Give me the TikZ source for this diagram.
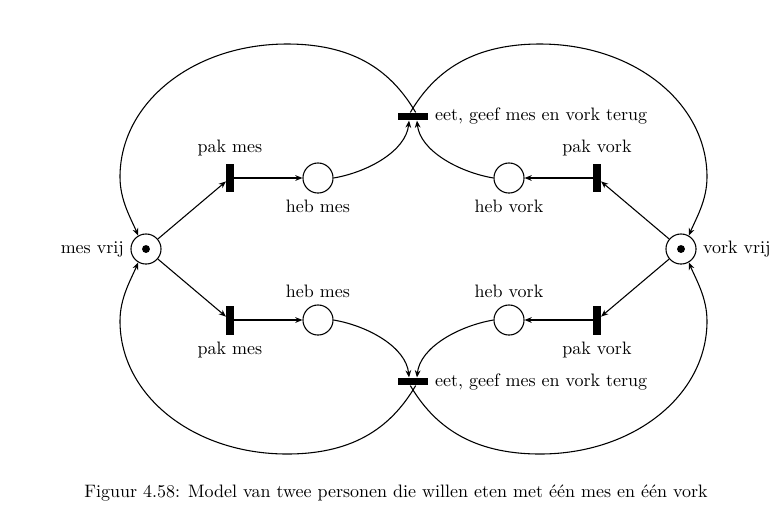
\documentclass[tikz,border=0pt]{standalone}
\usetikzlibrary{arrows.meta}
\begin{document}
\begin{tikzpicture}[x=0.5556pt,y=-0.5556pt,
  line width=0.6pt,
  place/.style={circle,draw,minimum size=16.7pt,inner sep=0pt,line width=0.6pt},
  token/.style={path picture={\fill (path picture bounding box.center) circle (2.2pt);}},
  vtrans/.style={rectangle,fill=black,minimum width=3.9pt,minimum height=16.1pt,inner sep=0pt},
  htrans/.style={rectangle,fill=black,minimum width=16.7pt,minimum height=3.9pt,inner sep=0pt},
  arc/.style={-{Stealth[length=4pt,width=3.2pt]}}
]
\useasboundingbox (0,0) rectangle (782,526);

% places and transitions
\node[place,token,label=left:mes vrij] (mv) at (146,249) {};
\node[place,token,label=right:vork vrij] (vv) at (681,249) {};

\node[vtrans,label=above:pak mes] (pm1) at (230,178) {};
\node[place,label=below:heb mes] (hm1) at (318,178) {};
\node[htrans,label=right:{eet, geef mes en vork terug}] (t1) at (413,116.5) {};
\node[place,label=below:heb vork] (hv1) at (509,178) {};
\node[vtrans,label=above:pak vork] (pv1) at (597,178) {};

\node[vtrans,label=below:pak mes] (pm2) at (230,320) {};
\node[place,label=above:heb mes] (hm2) at (318,320) {};
\node[htrans,label=right:{eet, geef mes en vork terug}] (t2) at (413,381.5) {};
\node[place,label=above:heb vork] (hv2) at (509,320) {};
\node[vtrans,label=below:pak vork] (pv2) at (597,320) {};

% straight arcs
\draw[arc] (mv) -- (pm1);
\draw[arc] (pm1) -- (hm1);
\draw[arc] (vv) -- (pv1);
\draw[arc] (pv1) -- (hv1);
\draw[arc] (mv) -- (pm2);
\draw[arc] (pm2) -- (hm2);
\draw[arc] (vv) -- (pv2);
\draw[arc] (pv2) -- (hv2);

% places to eat transitions
\draw[arc] (hm1.east) .. controls +(35,-6) and +(-3,30) .. ([xshift=-2.2pt]t1.south);
\draw[arc] (hv1.west) .. controls +(-35,-6) and +(3,30) .. ([xshift=2.2pt]t1.south);
\draw[arc] (hm2.east) .. controls +(35,6) and +(-3,-30) .. ([xshift=-2.2pt]t2.north);
\draw[arc] (hv2.west) .. controls +(-35,6) and +(3,-30) .. ([xshift=2.2pt]t2.north);

% big return loops
\draw[arc] ([xshift=1.5pt]t1.north) .. controls +(-23,-39) and (357,44) .. (287,44)
  .. controls (193.5,44) and (120,102.5) .. (120,177)
  .. controls (120,200) and (130.5,217.6) .. (mv.120);
\draw[arc] ([xshift=-1.5pt]t1.north) .. controls +(23,-39) and (470,44) .. (540,44)
  .. controls (633.5,44) and (707,102.5) .. (707,177)
  .. controls (707,200) and (696.5,217.6) .. (vv.60);
\draw[arc] ([xshift=1.5pt]t2.south) .. controls +(-23,39) and (357,454) .. (287,454)
  .. controls (193.5,454) and (120,395.5) .. (120,321)
  .. controls (120,298) and (130.5,280.4) .. (mv.240);
\draw[arc] ([xshift=-1.5pt]t2.south) .. controls +(23,39) and (470,454) .. (540,454)
  .. controls (633.5,454) and (707,395.5) .. (707,321)
  .. controls (707,298) and (696.5,280.4) .. (vv.300);

% caption
\node (cap) at (396,493) {Figuur 4.58: Model van twee personen die willen eten met één mes en één vork};
\end{tikzpicture}
\end{document}
